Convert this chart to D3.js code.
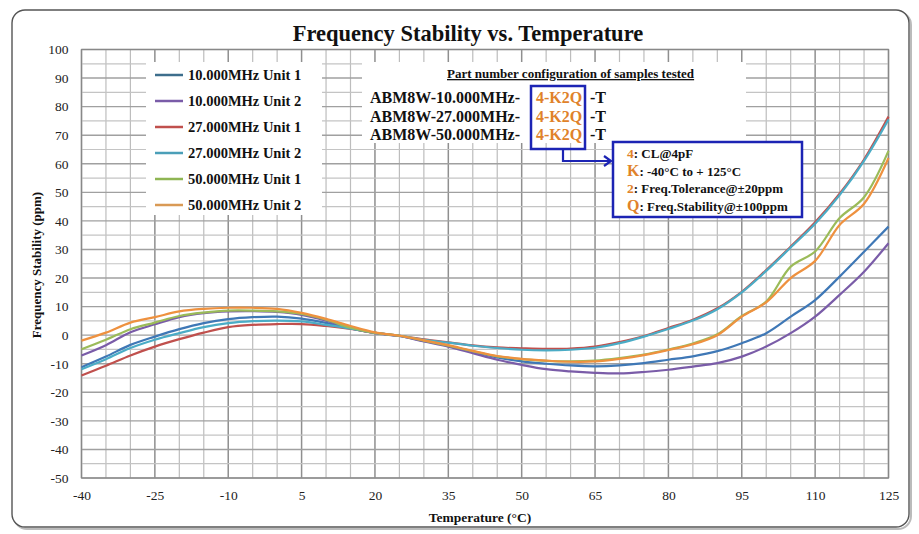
<!DOCTYPE html>
<html><head><meta charset="utf-8">
<script src="https://cdn.jsdelivr.net/npm/d3@7"></script>
<style>body{margin:0;background:#fff}svg{display:block}</style>
</head><body>
<svg id="c" width="919" height="534"></svg>
<script>
const temps = [-40,-35,-30,-25,-20,-15,-10,-5,0,5,10,15,20,25,30,35,40,45,50,55,60,65,70,75,80,85,90,95,100,105,110,115,120,125];
const mhz10u1 = [-11.2,-7.5,-3.4,-0.5,2.1,4.2,5.6,6.3,6.5,5.8,4.3,2.4,0.8,-0.3,-2.0,-3.6,-5.8,-7.8,-9.2,-10.0,-10.6,-10.9,-10.6,-9.8,-8.6,-7.4,-5.6,-2.8,0.7,6.5,12.3,20.5,29.2,38.0];
const mhz10u2 = [-7.1,-3.5,1.0,3.8,6.3,7.7,8.3,8.4,8.1,7.1,5.1,2.5,0.7,-0.3,-2.2,-4.0,-6.3,-8.6,-10.4,-11.9,-12.7,-13.2,-13.4,-12.9,-12.1,-11.0,-9.8,-7.5,-4.0,0.7,6.5,14.1,22.2,32.2];
const mhz27u1 = [-14.1,-10.7,-7.1,-4.0,-1.4,0.9,2.8,3.6,3.9,3.9,3.2,2.2,0.8,-0.2,-1.5,-2.5,-3.6,-4.3,-4.6,-4.8,-4.7,-4.0,-2.4,-0.3,2.5,5.4,9.4,15.2,22.8,31.0,39.5,49.5,61.5,76.5];
const mhz27u2 = [-11.9,-8.4,-4.5,-1.6,0.7,2.8,4.2,4.9,5.1,4.8,3.6,2.3,0.8,-0.2,-1.6,-2.6,-3.7,-4.5,-5.1,-5.3,-5.1,-4.4,-2.8,-0.5,2.2,5.1,9.1,15.0,22.5,30.7,39.0,49.0,61.0,75.5];
const mhz50u1 = [-4.9,-1.6,2.1,4.4,6.7,7.9,8.6,8.6,8.3,7.4,5.4,2.6,0.8,-0.2,-1.9,-3.7,-5.6,-7.4,-8.4,-9.0,-9.2,-8.9,-8.0,-6.8,-5.0,-2.9,0.3,6.7,11.8,24.0,29.3,41.0,48.3,64.5];
const mhz50u2 = [-1.9,0.9,4.4,6.3,8.3,9.2,9.6,9.6,9.2,7.8,5.7,3.2,1.0,-0.2,-1.8,-3.5,-5.5,-7.3,-8.3,-8.9,-9.3,-9.2,-8.3,-7.0,-5.2,-3.2,0.0,6.5,11.5,20.0,26.0,38.6,46.0,62.0];
const seriesNames = ["10.000MHz Unit 1","10.000MHz Unit 2","27.000MHz Unit 1","27.000MHz Unit 2","50.000MHz Unit 1","50.000MHz Unit 2"];
const seriesColors = ["#3f78b6","#7a5ca8","#c0504d","#4bacc6","#9bbb59","#ee913f"];
const legendColors = ["#3d6e8c","#7a5ca8","#c0504d","#4b9fb8","#8fb553","#d99a55"];
const seriesData = [mhz10u1,mhz10u2,mhz27u1,mhz27u2,mhz50u1,mhz50u2];
const xTicks = [-40,-25,-10,5,20,35,50,65,80,95,110,125];
const yTicks = [100,90,80,70,60,50,40,30,20,10,0,-10,-20,-30,-40,-50];
const partRows = ["ABM8W-10.000MHz-","ABM8W-27.000MHz-","ABM8W-50.000MHz-"];
const codeKeys = [["4",": CL@4pF"],["K",": -40°C to + 125°C"],["2",": Freq.Tolerance@±20ppm"],["Q",": Freq.Stability@±100ppm"]];

const svg = d3.select("#c");
const serif = "'Liberation Serif','Times New Roman',serif";
const x = d3.scaleLinear().domain([-40,125]).range([81.5,888.5]);
const y = d3.scaleLinear().domain([-50,100]).range([478,49.5]);

// outer frame
svg.append("rect").attr("x",14).attr("y",12).attr("width",897).attr("height",517).attr("rx",13)
  .attr("fill","none").attr("stroke","#bbb").attr("stroke-width",2);
svg.append("rect").attr("x",12).attr("y",10).attr("width",897).attr("height",517).attr("rx",13)
  .attr("fill","#fff").attr("stroke","#555").attr("stroke-width",1.4);

// gridlines
const g = svg.append("g");
d3.range(-40,126,5).forEach(t=>{
  const major = xTicks.includes(t);
  g.append("line").attr("x1",x(t)).attr("x2",x(t)).attr("y1",y(100)).attr("y2",y(-50))
    .attr("stroke",major?"#8f8f8f":"#bdbdbd").attr("stroke-width",major?1.5:1.2);
});
d3.range(-50,101,5).forEach(v=>{
  const major = v%10===0;
  g.append("line").attr("x1",x(-40)).attr("x2",x(125)).attr("y1",y(v)).attr("y2",y(v))
    .attr("stroke",major?"#a0a0a0":"#c4c4c4").attr("stroke-width",major?1.4:1.2);
});
g.append("rect").attr("x",x(-40)).attr("y",y(100)).attr("width",x(125)-x(-40)).attr("height",y(-50)-y(100))
  .attr("fill","none").attr("stroke","#888").attr("stroke-width",1.2);

// axes labels
const fmt = d => String(d);
const xa = svg.append("g").attr("transform",`translate(0,${y(-50)})`)
  .call(d3.axisBottom(x).tickValues(xTicks).tickFormat(fmt).tickSize(0).tickPadding(12));
xa.select(".domain").remove();
xa.selectAll("text").attr("font-family",serif).attr("font-size",13.5).attr("fill","#222");
const ya = svg.append("g").attr("transform",`translate(${x(-40)},0)`)
  .call(d3.axisLeft(y).tickValues(yTicks).tickFormat(fmt).tickSize(0).tickPadding(13));
ya.select(".domain").remove();
ya.selectAll("text").attr("font-family",serif).attr("font-size",13.5).attr("fill","#222");

// titles
svg.append("text").attr("x",468).attr("y",41).attr("text-anchor","middle").attr("font-family",serif)
  .attr("font-weight","bold").attr("font-size",22.5).attr("fill","#111").text("Frequency Stability vs. Temperature");
svg.append("text").attr("x",480).attr("y",522).attr("text-anchor","middle").attr("font-family",serif)
  .attr("font-weight","bold").attr("font-size",13.5).attr("fill","#111").text("Temperature (°C)");
svg.append("text").attr("transform","translate(41,265) rotate(-90)").attr("text-anchor","middle").attr("font-family",serif)
  .attr("font-weight","bold").attr("font-size",13).attr("fill","#111").text("Frequency Stability (ppm)");

// lines
const line = d3.line().x((d,i)=>x(temps[i])).y(d=>y(d)).curve(d3.curveCatmullRom.alpha(0.5));
seriesData.forEach((s,k)=>{
  svg.append("path").attr("d",line(s)).attr("fill","none").attr("stroke",seriesColors[k]).attr("stroke-width",2.2);
});

// legend
svg.append("rect").attr("x",146).attr("y",62).attr("width",176).attr("height",153).attr("fill","#fff");
seriesNames.forEach((n,k)=>{
  const yy = 75 + k*26;
  svg.append("line").attr("x1",155).attr("x2",183).attr("y1",yy).attr("y2",yy).attr("stroke",legendColors[k]).attr("stroke-width",2.5);
  svg.append("text").attr("x",188).attr("y",yy+5).attr("font-family",serif).attr("font-weight","bold")
    .attr("font-size",14.5).attr("fill","#111").text(n);
});

// annotation
svg.append("rect").attr("x",362).attr("y",62).attr("width",384).attr("height",81).attr("fill","#fff");
svg.append("text").attr("x",447).attr("y",78).attr("font-family",serif).attr("font-weight","bold").attr("font-size",13)
  .attr("fill","#111").attr("text-decoration","underline").text("Part number configuration of samples tested");
partRows.forEach((r,i)=>{
  const by = 103 + i*18.5;
  svg.append("text").attr("x",370).attr("y",by).attr("font-family",serif).attr("font-weight","bold").attr("font-size",16).attr("fill","#111").text(r);
  svg.append("text").attr("x",536).attr("y",by).attr("font-family",serif).attr("font-weight","bold").attr("font-size",16).attr("fill","#e0822a").text("4-K2Q");
  svg.append("text").attr("x",590).attr("y",by).attr("font-family",serif).attr("font-weight","bold").attr("font-size",16).attr("fill","#111").text("-T");
});
const blue = "#1c24b4";
svg.append("rect").attr("x",531).attr("y",86).attr("width",54).attr("height",63).attr("fill","none").attr("stroke",blue).attr("stroke-width",2.5);
svg.append("path").attr("d","M563,149 V161 H610").attr("fill","none").attr("stroke",blue).attr("stroke-width",2.2);
svg.append("path").attr("d","M604,156 L611,161 L604,166").attr("fill","none").attr("stroke",blue).attr("stroke-width",2.2);
svg.append("rect").attr("x",613).attr("y",142).attr("width",189).attr("height",75).attr("fill","#fff").attr("stroke",blue).attr("stroke-width",2.5);
codeKeys.forEach((c,i)=>{
  const by = 158 + i*17.5;
  const t = svg.append("text").attr("x",627).attr("y",by).attr("font-family",serif).attr("font-weight","bold");
  t.append("tspan").attr("font-size",i%2===0?13.5:16).attr("fill","#e0822a").text(c[0]);
  t.append("tspan").attr("font-size",13).attr("fill","#111").text(c[1]);
});
</script>
</body></html>
